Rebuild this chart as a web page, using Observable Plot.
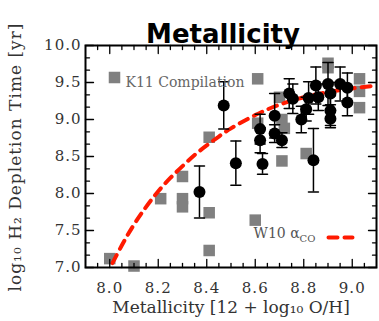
<!DOCTYPE html>
<html><head><meta charset="utf-8">
<script src="https://cdn.jsdelivr.net/npm/d3@7"></script>
<script src="https://cdn.jsdelivr.net/npm/@observablehq/plot@0.6"></script>
<style>body{margin:0;background:#fff}</style>
</head><body><div id="chart"></div>
<script>
const titleText = "Metallicity";
const xLabel = "Metallicity [12 + log₁₀ O/H]";
const yLabel = "log₁₀ H₂ Depletion Time [yr]";
const xTicks = [8.0, 8.2, 8.4, 8.6, 8.8, 9.0];
const yTicks = [7.0, 7.5, 8.0, 8.5, 9.0, 9.5, 10.0];
const legendK11 = "K11 Compilation";
const legendW10 = "W10 α";
const legendW10Sub = "CO";

// K11 compilation (gray squares)
const k11X = [8.00, 8.10, 8.21, 8.30, 8.30, 8.30, 8.41, 8.41, 8.41, 8.60, 8.61, 8.61, 8.70, 8.71, 8.72, 8.71, 8.81, 8.90, 8.90, 9.03, 9.03, 9.03];
const k11Y = [7.12, 7.02, 7.93, 8.23, 7.93, 7.82, 8.76, 7.74, 7.23, 7.64, 9.55, 8.95, 9.30, 9.00, 8.88, 8.44, 8.54, 9.76, 9.70, 9.55, 9.38, 9.16];

// This sample (black circles with error bars)
const sfX = [8.37, 8.47, 8.52, 8.63, 8.84, 8.62, 8.62, 8.68, 8.71, 8.68, 8.74, 8.755, 8.79, 8.81, 8.82, 8.85, 8.86, 8.90, 8.91, 8.91, 8.91, 8.95, 8.98, 8.98];
const sfY = [8.02, 9.19, 8.41, 8.40, 8.45, 8.87, 8.72, 8.81, 8.72, 9.05, 9.35, 9.28, 9.00, 9.14, 9.29, 9.46, 9.30, 9.48, 9.35, 9.12, 9.01, 9.48, 9.43, 9.23];
const sfErr = [0.35, 0.32, 0.30, 0.14, 0.43, 0.20, 0.17, 0.12, 0.10, 0.30, 0.20, 0.20, 0.18, 0.16, 0.22, 0.25, 0.18, 0.29, 0.15, 0.20, 0.12, 0.23, 0.20, 0.18];

// W10 alpha_CO curve
const w10X = [7.98, 8.00, 8.05, 8.10, 8.15, 8.20, 8.25, 8.30, 8.35, 8.40, 8.45, 8.50, 8.60, 8.70, 8.80, 8.90, 9.00, 9.10];
const w10Y = [6.87, 6.99, 7.30, 7.58, 7.82, 8.03, 8.21, 8.37, 8.52, 8.65, 8.77, 8.88, 9.06, 9.20, 9.30, 9.37, 9.42, 9.46];

const k11 = k11X.map((x, i) => ({x, y: k11Y[i]}));
const sf = sfX.map((x, i) => ({x, y: sfY[i], e: sfErr[i]}));
const w10 = w10X.map((x, i) => ({x, y: w10Y[i]}));

const xMinor = d3.range(159, 182).filter(i => i % 4 !== 0).map(i => i * 0.05);
const yMinor = d3.range(43, 60).filter(i => i % 3 !== 0).map(i => i / 6);

const lineShape = {draw(context, l) { context.moveTo(0, 0); context.lineTo(0, -l); }};
const tick = (data, ch, frameAnchor, rotate, length) => Plot.vector(data, {
  [ch]: d => d, frameAnchor, rotate, length, anchor: "start", shape: lineShape,
  stroke: "black", strokeWidth: 1.3
});

const plot = Plot.plot({
  width: 379, height: 321,
  marginLeft: 85, marginRight: 3, marginTop: 45, marginBottom: 54,
  style: {fontFamily: "DejaVu Serif", background: "white"},
  x: {domain: [7.9, 9.1]},
  y: {domain: [7.0, 10.0]},
  marks: [
    Plot.dot(k11, {x: "x", y: "y", symbol: "square", r: 6.5, fill: "#808080"}),
    Plot.line(w10, {x: "x", y: "y", curve: "natural", stroke: "#ff1a00", strokeWidth: 4, strokeDasharray: "9,7", clip: true}),
    Plot.ruleX(sf, {x: "x", y1: d => d.y - d.e, y2: d => d.y + d.e, stroke: "black", strokeWidth: 1.5}),
    Plot.vector(sf, {x: "x", y: d => d.y + d.e, rotate: 90, length: 10, anchor: "middle", shape: lineShape, stroke: "black", strokeWidth: 1.5}),
    Plot.vector(sf, {x: "x", y: d => d.y - d.e, rotate: 90, length: 10, anchor: "middle", shape: lineShape, stroke: "black", strokeWidth: 1.5}),
    Plot.dot(sf, {x: "x", y: "y", r: 6, fill: "black"}),
    // ticks
    tick(xTicks, "x", "bottom", 0, 8), tick(xMinor, "x", "bottom", 0, 4),
    tick(xTicks, "x", "top", 180, 8), tick(xMinor, "x", "top", 180, 4),
    tick(yTicks, "y", "left", 90, 8), tick(yMinor, "y", "left", 90, 4),
    tick(yTicks, "y", "right", -90, 8), tick(yMinor, "y", "right", -90, 4),
    Plot.frame({stroke: "black", strokeWidth: 2}),
    Plot.axisX(xTicks, {anchor: "bottom", tickSize: 0, tickPadding: 15, fontSize: 15, fill: "#333", label: null, tickFormat: d => d.toFixed(1)}),
    Plot.axisY(yTicks, {anchor: "left", tickSize: 0, tickPadding: 4, fontSize: 15, fill: "#333", label: null, tickFormat: d => d.toFixed(1)}),
    // legend
    Plot.dot([legendK11], {frameAnchor: "top-left", dx: 29, dy: 32, symbol: "square", r: 6.5, fill: "#808080"}),
    Plot.text([legendK11], {frameAnchor: "top-left", dx: 40, dy: 32, textAnchor: "start", fontSize: 14, fill: "#666", ariaLabel: "spaced"}),
    Plot.text([legendW10], {frameAnchor: "bottom-right", dx: -123, dy: -30, textAnchor: "start", fontSize: 14, fill: "#555", ariaLabel: "spaced"}),
    Plot.text([legendW10Sub], {frameAnchor: "bottom-right", dx: -77, dy: -26, textAnchor: "start", fontSize: 10, fill: "#555", ariaLabel: "spaced"}),
    Plot.vector([legendW10], {frameAnchor: "bottom-right", dx: -36, dy: -30, rotate: 90, length: 24, anchor: "middle", shape: lineShape, stroke: "#ff1a00", strokeWidth: 4, strokeDasharray: "9,7"}),
    // titles
    Plot.text([titleText], {frameAnchor: "top", dx: -8, dy: -21, fontSize: 26, fontWeight: "bold", fontFamily: "DejaVu Sans", fill: "black", ariaLabel: "spaced"}),
    Plot.text([xLabel], {frameAnchor: "bottom", dy: 45, fontSize: 17, fill: "#333", ariaLabel: "spaced"})
  ]
});
const svg = d3.select(plot);
svg.selectAll('g[aria-label="spaced"] text, g[aria-label="x-axis tick label"] text, g[aria-label="y-axis tick label"] text').style("letter-spacing", "1px");
// rotated y-axis title
const yMid = (plot.scale("y").range[0] + plot.scale("y").range[1]) / 2;
svg.append("text")
  .attr("transform", `translate(15.5,${yMid + 1}) rotate(-90)`)
  .attr("text-anchor", "middle")
  .attr("dy", "0.32em")
  .attr("fill", "#333")
  .attr("font-family", "DejaVu Serif")
  .attr("font-size", 17)
  .style("letter-spacing", "1px")
  .text(yLabel);
document.getElementById("chart").append(plot);
</script>
</body></html>
